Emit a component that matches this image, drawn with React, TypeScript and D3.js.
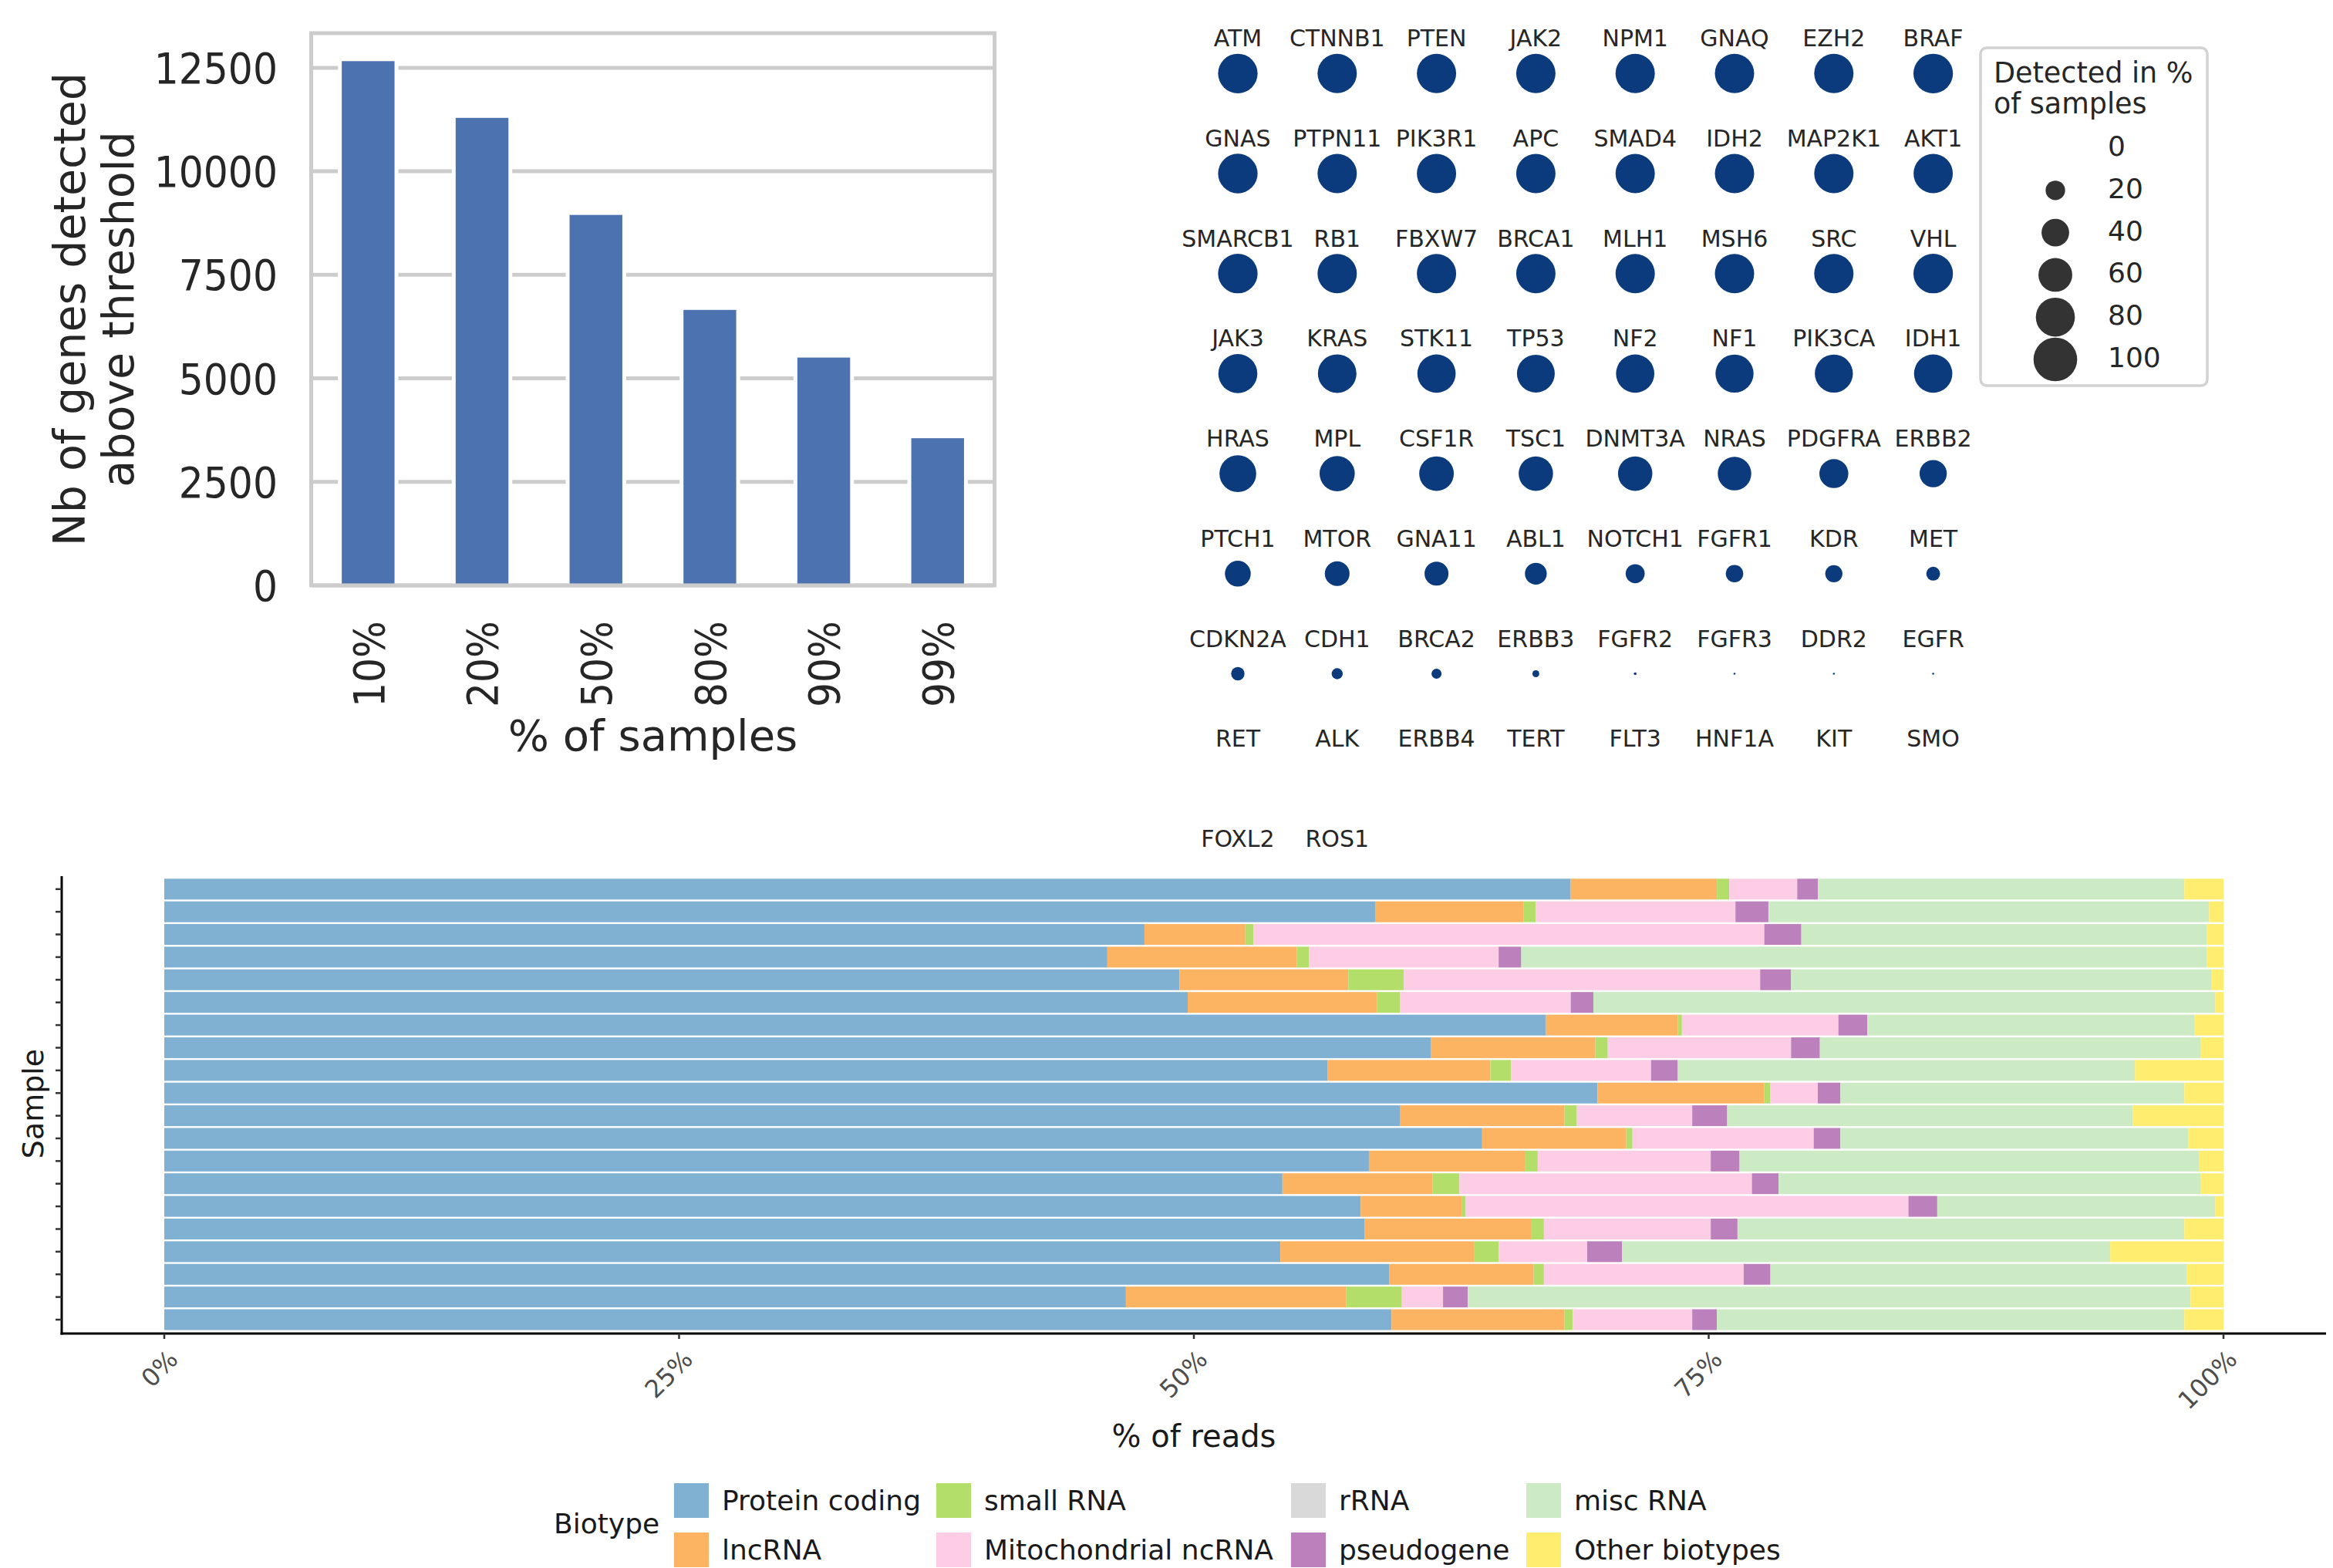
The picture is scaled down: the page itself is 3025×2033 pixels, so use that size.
import React from "react";
import * as d3 from "d3";

// ---------- Data: top-left bar chart ----------
const thresholdLabels = ["10%", "20%", "50%", "80%", "90%", "99%"];
const genesDetected = [12660, 11290, 8946, 6652, 5501, 3553];
const barTicks = [0, 2500, 5000, 7500, 10000, 12500];

// ---------- Data: dot grid ----------
const geneNames = [
  "ATM", "CTNNB1", "PTEN", "JAK2", "NPM1", "GNAQ", "EZH2", "BRAF",
  "GNAS", "PTPN11", "PIK3R1", "APC", "SMAD4", "IDH2", "MAP2K1", "AKT1",
  "SMARCB1", "RB1", "FBXW7", "BRCA1", "MLH1", "MSH6", "SRC", "VHL",
  "JAK3", "KRAS", "STK11", "TP53", "NF2", "NF1", "PIK3CA", "IDH1",
  "HRAS", "MPL", "CSF1R", "TSC1", "DNMT3A", "NRAS", "PDGFRA", "ERBB2",
  "PTCH1", "MTOR", "GNA11", "ABL1", "NOTCH1", "FGFR1", "KDR", "MET",
  "CDKN2A", "CDH1", "BRCA2", "ERBB3", "FGFR2", "FGFR3", "DDR2", "EGFR",
  "RET", "ALK", "ERBB4", "TERT", "FLT3", "HNF1A", "KIT", "SMO",
  "FOXL2", "ROS1",
];
const detectedPct = [
  82, 81, 81, 81, 81, 81, 81, 82,
  82, 81, 81, 81, 81, 81, 81, 81,
  82, 81, 81, 81, 81, 81, 81, 82,
  80, 78, 77, 75, 77, 76, 76, 77,
  71, 65, 63, 62, 62, 59, 44, 39,
  35, 32, 30, 25, 19, 16, 15.5, 10,
  9.4, 6.5, 5.3, 2.5, 0.4, 0.2, 0.2, 0.2,
  0, 0, 0, 0, 0, 0, 0, 0,
  0, 0,
];
const sizeLegendValues = [0, 20, 40, 60, 80, 100];

// ---------- Data: stacked biotype bars ----------
const samples = d3.range(1, 21).map((i) => `S${i}`);
const biotypes = [
  "Protein coding", "lncRNA", "small RNA", "Mitochondrial ncRNA",
  "rRNA", "pseudogene", "misc RNA", "Other biotypes",
];
const biotypeColors = ["#80b1d3", "#fdb462", "#b3de69", "#fccde5", "#d9d9d9", "#bc80bd", "#ccebc5", "#ffed6f"];
const proteinCoding = [68.3, 58.8, 47.6, 45.8, 49.3, 49.7, 67.1, 61.5, 56.5, 69.6, 60.0, 64.0, 58.5, 54.3, 58.1, 58.3, 54.2, 59.5, 46.7, 59.6];
const lncRNA = [7.1, 7.2, 4.9, 9.2, 8.2, 9.2, 6.4, 8.0, 7.9, 8.1, 8.0, 7.0, 7.6, 7.3, 4.9, 8.1, 9.4, 7.0, 10.7, 8.4];
const smallRNA = [0.6, 0.6, 0.4, 0.6, 2.7, 1.1, 0.2, 0.6, 1.0, 0.3, 0.6, 0.3, 0.6, 1.3, 0.2, 0.6, 1.2, 0.5, 2.7, 0.4];
const mitoNcRNA = [3.3, 9.7, 24.8, 9.2, 17.3, 8.3, 7.6, 8.9, 6.8, 2.3, 5.6, 8.8, 8.4, 14.2, 21.5, 8.1, 4.3, 9.7, 2.0, 5.8];
const rRNA = [0, 0, 0, 0, 0, 0, 0, 0, 0, 0, 0, 0, 0, 0, 0, 0, 0, 0, 0, 0];
const pseudogene = [1.0, 1.6, 1.8, 1.1, 1.5, 1.1, 1.4, 1.4, 1.3, 1.1, 1.7, 1.3, 1.4, 1.3, 1.4, 1.3, 1.7, 1.3, 1.2, 1.2];
const miscRNA = [17.8, 21.4, 19.7, 33.3, 20.4, 30.2, 15.9, 18.5, 22.2, 16.7, 19.7, 16.9, 22.3, 20.5, 13.5, 21.7, 23.7, 20.2, 35.1, 22.7];
const otherBiotypes = [1.9, 0.7, 0.8, 0.8, 0.6, 0.4, 1.4, 1.1, 4.3, 1.9, 4.4, 1.7, 1.2, 1.1, 0.4, 1.9, 5.5, 1.8, 1.6, 1.9];
const readTicks = [0, 25, 50, 75, 100];

const FONT = "DejaVu Sans";

function CText(props: any) {
  const { x, y, rotate = 0, size, anchor = "start", dy = 0, fill = "#262626", children } = props;
  return (
    <text
      transform={`translate(${x},${y}) rotate(${rotate}) scale(0.9,1)`}
      fontSize={size}
      textAnchor={anchor}
      dy={dy}
      fill={fill}
    >
      {children}
    </text>
  );
}

export default function App() {
  // bar chart scales
  const xBar = d3.scaleBand<string>().domain(thresholdLabels).range([403.5, 1289.6]).paddingInner(0.537).paddingOuter(0.2685);
  const yBar = d3.scaleLinear().domain([0, 13336]).range([758.9, 43]);

  // dot grid scales
  const colX = d3.scalePoint<number>().domain(d3.range(8)).range([1605, 2506.6]);
  const rowY = d3.scalePoint<number>().domain(d3.range(9)).range([95.3, 1132.9]);
  const rSize = d3.scaleSqrt().domain([0, 100]).range([0, 28.3]);

  // stacked bars
  const table = samples.map((s, i) => ({
    sample: s,
    "Protein coding": proteinCoding[i],
    lncRNA: lncRNA[i],
    "small RNA": smallRNA[i],
    "Mitochondrial ncRNA": mitoNcRNA[i],
    rRNA: rRNA[i],
    pseudogene: pseudogene[i],
    "misc RNA": miscRNA[i],
    "Other biotypes": otherBiotypes[i],
  }));
  const stacked = d3.stack<any>().keys(biotypes)(table);
  const xReads = d3.scaleLinear().domain([0, 100]).range([213, 2883]);
  const ySample = d3.scaleBand<string>().domain(samples).range([1138.1, 1725.7]).paddingInner(0.082).paddingOuter(0.041);
  const colorOf = d3.scaleOrdinal<string, string>().domain(biotypes).range(biotypeColors);

  const legendCols = [874, 1214, 1674, 1979];
  const legendRows = [1923, 1987];

  return (
    <svg
      width={3025}
      height={2033}
      style={{ position: "absolute", left: 0, top: 0, background: "#fff" }}
      fontFamily={FONT}
    >
      <rect x={0} y={0} width={3025} height={2033} fill="#fff" />

      {/* ===== Top-left bar chart ===== */}
      <g>
        {barTicks.map((t) => (
          <line key={t} x1={403.5} x2={1289.6} y1={yBar(t)} y2={yBar(t)} stroke="#cccccc" strokeWidth={5} />
        ))}
        {thresholdLabels.map((lab, i) => (
          <rect
            key={"h" + lab}
            x={xBar(lab)! - 5}
            y={yBar(genesDetected[i]) - 5}
            width={xBar.bandwidth() + 10}
            height={yBar(0) - yBar(genesDetected[i]) + 5}
            fill="#ffffff"
          />
        ))}
        {thresholdLabels.map((lab, i) => (
          <rect
            key={lab}
            x={xBar(lab)!}
            y={yBar(genesDetected[i])}
            width={xBar.bandwidth()}
            height={yBar(0) - yBar(genesDetected[i])}
            fill="#4c72b0"
          />
        ))}
        <rect x={403.5} y={43} width={1289.6 - 403.5} height={758.9 - 43} fill="none" stroke="#cccccc" strokeWidth={5} />
        {barTicks.map((t) => (
          <CText key={"yt" + t} x={360} y={yBar(t)} size={56} anchor="end" dy="0.36em">
            {String(t)}
          </CText>
        ))}
        {thresholdLabels.map((lab) => (
          <CText key={"xt" + lab} x={xBar(lab)! + xBar.bandwidth() / 2} y={805} rotate={-90} size={56} anchor="end" dy="0.36em">
            {lab}
          </CText>
        ))}
        <text x={846.5} y={973} fontSize={56} textAnchor="middle" fill="#262626">% of samples</text>
        <text transform="translate(110,401) rotate(-90)" fontSize={57} textAnchor="middle" fill="#262626">Nb of genes detected</text>
        <text transform="translate(173,401) rotate(-90)" fontSize={57} textAnchor="middle" fill="#262626">above threshold</text>
      </g>

      {/* ===== Dot grid ===== */}
      <g>
        {geneNames.map((g, i) => {
          const cx = colX(i % 8)!;
          const cy = rowY(Math.floor(i / 8))!;
          return (
            <g key={g}>
              <text x={cx} y={cy - 35} fontSize={30} textAnchor="middle" fill="#262626">{g}</text>
              {detectedPct[i] > 0 && <circle cx={cx} cy={cy} r={rSize(detectedPct[i])} fill="#0b3b7c" />}
            </g>
          );
        })}
        <rect x={2568} y={62} width={294} height={438} rx={8} ry={8} fill="#fff" stroke="#d2d2d2" strokeWidth={3.5} />
        <text x={2585} y={107} fontSize={36.5} fill="#262626">Detected in %</text>
        <text x={2585} y={147} fontSize={36.5} fill="#262626">of samples</text>
        {sizeLegendValues.map((v, i) => {
          const cy = 192 + 54.8 * i;
          return (
            <g key={"sl" + v}>
              {v > 0 && <circle cx={2665} cy={cy} r={rSize(v)} fill="#333333" />}
              <text x={2733} y={cy + 10} fontSize={36} fill="#262626">{v}</text>
            </g>
          );
        })}
      </g>

      {/* ===== Stacked biotype bars ===== */}
      <g>
        {stacked.map((layer) => (
          <g key={layer.key} fill={colorOf(layer.key)}>
            {layer.map((d, i) =>
              d[1] - d[0] > 0 ? (
                <rect
                  key={i}
                  x={xReads(d[0])}
                  y={ySample(samples[i])!}
                  width={xReads(d[1]) - xReads(d[0])}
                  height={ySample.bandwidth()}
                />
              ) : null
            )}
          </g>
        ))}
        {/* axes */}
        <line x1={80} x2={80} y1={1136} y2={1730.5} stroke="#000" strokeWidth={3} />
        <line x1={78.5} x2={3016} y1={1729} y2={1729} stroke="#000" strokeWidth={3} />
        {samples.map((s) => (
          <line key={"ytk" + s} x1={72} x2={80} y1={ySample(s)! + ySample.bandwidth() / 2} y2={ySample(s)! + ySample.bandwidth() / 2} stroke="#333" strokeWidth={2.5} />
        ))}
        {readTicks.map((t) => (
          <g key={"xr" + t}>
            <line x1={xReads(t)} x2={xReads(t)} y1={1729} y2={1736} stroke="#333" strokeWidth={2.5} />
            <text
              transform={`translate(${xReads(t) + 3},1748) rotate(-45)`}
              fontSize={32}
              textAnchor="end"
              dy="0.73em"
              fill="#4d4d4d"
            >
              {t + "%"}
            </text>
          </g>
        ))}
        <text x={1548} y={1876} fontSize={40} textAnchor="middle" fill="#1a1a1a">% of reads</text>
        <text transform="translate(56,1431) rotate(-90)" fontSize={38} textAnchor="middle" fill="#1a1a1a">Sample</text>

        {/* legend */}
        <text x={718} y={1988} fontSize={36} fill="#1a1a1a">Biotype</text>
        {biotypes.map((b, i) => {
          const col = Math.floor(i / 2);
          const row = i % 2;
          const kx = legendCols[col];
          const ky = legendRows[row];
          return (
            <g key={"lg" + b}>
              <rect x={kx} y={ky} width={45} height={45} fill={colorOf(b)} />
              <text x={kx + 62} y={ky + 22.5} dy="0.36em" fontSize={36} fill="#1a1a1a">{b}</text>
            </g>
          );
        })}
      </g>
    </svg>
  );
}
